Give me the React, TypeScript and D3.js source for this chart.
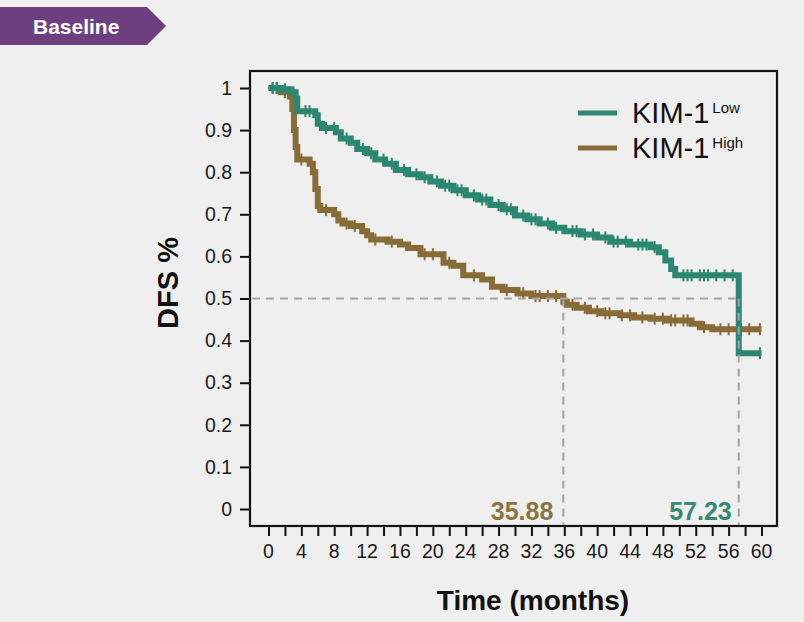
import * as d3 from 'd3';
import { useEffect, useRef } from 'react';

// Kaplan-Meier steps: [month, survival after the event]
const lowSteps: [number, number][] = [
    [0, 1.0], [1.5, 0.997], [2.8, 0.99], [3.3, 0.975], [3.5, 0.945],
    [5.7, 0.935], [6.0, 0.915], [6.5, 0.905], [8.2, 0.895], [8.8, 0.88],
    [10.0, 0.87], [10.8, 0.855], [12.0, 0.845], [13.0, 0.83], [14.2, 0.82],
    [15.5, 0.805], [17.0, 0.795], [18.5, 0.788], [19.7, 0.778], [21.0, 0.768],
    [22.5, 0.757], [24.0, 0.745], [25.5, 0.735], [27.0, 0.722], [28.5, 0.712],
    [30.0, 0.697], [31.5, 0.688], [33.0, 0.678], [34.5, 0.668], [36.0, 0.66],
    [38.0, 0.652], [40.0, 0.645], [41.6, 0.635], [44.0, 0.628], [46.5, 0.622],
    [47.5, 0.61], [48.3, 0.59], [49.0, 0.57], [49.5, 0.555], [57.23, 0.37]
];
const highSteps: [number, number][] = [
    [0, 1.0], [1.5, 0.99], [2.6, 0.98], [2.9, 0.95], [3.1, 0.9],
    [3.3, 0.86], [3.5, 0.83], [5.0, 0.82], [5.4, 0.8], [5.7, 0.76],
    [6.0, 0.72], [6.3, 0.71], [8.0, 0.7], [8.5, 0.685], [9.0, 0.678],
    [10.0, 0.672], [11.4, 0.66], [12.0, 0.65], [12.5, 0.64], [14.5, 0.635],
    [16.0, 0.628], [17.0, 0.62], [18.5, 0.605], [21.3, 0.585], [22.5, 0.578],
    [23.7, 0.555], [26.0, 0.545], [27.2, 0.528], [28.5, 0.52], [30.3, 0.512],
    [32.0, 0.506], [35.88, 0.492], [36.3, 0.485], [37.5, 0.478], [39.0, 0.47],
    [40.5, 0.465], [42.8, 0.46], [44.5, 0.455], [46.5, 0.452], [48.5, 0.448],
    [51.5, 0.44], [52.5, 0.432], [54.0, 0.427]
];
const lowCensored = [0.5, 1, 2, 4.5, 5, 7, 8, 9.5, 11.5, 12.5, 14, 15, 16.5, 18, 19, 20.5, 21.5, 22, 23, 23.5, 25, 26, 26.5, 28, 29, 29.5, 31, 32, 32.5, 34, 35, 37, 37.5, 38.5, 39.5, 41, 42, 42.5, 43.5, 45, 45.5, 46, 47, 50.5, 51, 51.5, 52.5, 53, 53.5, 54.5, 55.5, 56.5, 59.8];
const highCensored = [0.5, 1, 2, 4, 7, 9.5, 10.5, 13, 15, 19, 20, 22, 25, 29, 31, 32.5, 33, 34, 35, 37, 38.5, 40, 41, 41.5, 43, 44, 45.5, 47, 48, 49, 49.5, 50.5, 51, 53, 55, 56, 57.5, 58.5, 59.8];
const medianLow = 57.23;
const medianHigh = 35.88;
const xTicks = d3.range(0, 61, 4);
const yTicks = [0, 0.1, 0.2, 0.3, 0.4, 0.5, 0.6, 0.7, 0.8, 0.9, 1];
const followUp = 60;

export default function App() {
    const ref = useRef<HTMLDivElement>(null);

    useEffect(() => {
        document.body.style.margin = '0';
        const width = 804;
        const height = 622;
        const font = '"Liberation Sans", Arial, sans-serif';
        const teal = '#2c8770';
        const brown = '#876c37';
        const frame = { left: 250, right: 777, top: 71, bottom: 526 };

        const svg = d3.create('svg').attr('width', width).attr('height', height)
            .style('display', 'block').style('background', '#efefef');

        const x = d3.scaleLinear().domain([0, 60]).range([268.5, 761.5]);
        const y = d3.scaleLinear().domain([0, 1]).range([509, 88]);

        // banner tag
        svg.append('path')
            .attr('d', 'M0,7 L147,7 L166,26 L147,45 L0,45 Z')
            .attr('fill', '#6e3f7e');
        svg.append('text')
            .attr('x', 33).attr('y', 34)
            .attr('font-family', font).attr('font-weight', 700).attr('font-size', 21)
            .attr('fill', '#fff').text('Baseline');

        // plot frame
        svg.append('rect')
            .attr('x', frame.left).attr('y', frame.top)
            .attr('width', frame.right - frame.left).attr('height', frame.bottom - frame.top)
            .attr('fill', 'none').attr('stroke', '#111').attr('stroke-width', 2.2);

        // y axis
        const yAxis = d3.axisLeft(y).tickValues(yTicks).tickSize(10).tickPadding(8)
            .tickFormat(d => d3.format('~g')(d as number));
        const gy = svg.append('g').attr('transform', `translate(${frame.left},0)`).call(yAxis);
        gy.select('.domain').remove();
        gy.selectAll('line').attr('stroke', '#111').attr('stroke-width', 2);
        gy.selectAll('text').attr('font-family', font).attr('font-size', 19.5).attr('fill', '#1a1a1a');

        // x axis with minor ticks every 2 months
        const gx = svg.append('g').attr('transform', `translate(0,${frame.bottom})`)
            .call(d3.axisBottom(x).tickValues(d3.range(0, 61, 2)).tickSize(10).tickFormat(() => ''));
        gx.select('.domain').remove();
        gx.selectAll('line').attr('stroke', '#111').attr('stroke-width', 2);
        svg.append('g').selectAll('text').data(xTicks).join('text')
            .attr('x', d => x(d)).attr('y', 558)
            .attr('text-anchor', 'middle')
            .attr('font-family', font).attr('font-size', 19.5).attr('fill', '#1a1a1a')
            .text(d => d);

        // axis titles
        svg.append('text')
            .attr('transform', 'translate(178,283) rotate(-90)')
            .attr('text-anchor', 'middle')
            .attr('font-family', font).attr('font-weight', 700).attr('font-size', 29)
            .attr('fill', '#111').text('DFS %');
        svg.append('text')
            .attr('x', 533).attr('y', 610)
            .attr('text-anchor', 'middle')
            .attr('font-family', font).attr('font-weight', 700).attr('font-size', 28)
            .attr('fill', '#111').text('Time (months)');

        const survivalAt = (steps: [number, number][], t: number) => {
            let s = steps[0][1];
            for (const [st, sv] of steps) if (st <= t) s = sv;
            return s;
        };
        const line = d3.line<[number, number]>()
            .x(d => x(d[0])).y(d => y(d[1]))
            .curve(d3.curveStepAfter);

        const series = [
            { steps: highSteps, censored: highCensored, color: brown },
            { steps: lowSteps, censored: lowCensored, color: teal }
        ];
        series.forEach(s => {
            const pts: [number, number][] = [...s.steps, [followUp, s.steps[s.steps.length - 1][1]]];
            svg.append('path')
                .attr('d', line(pts))
                .attr('fill', 'none').attr('stroke', s.color)
                .attr('stroke-width', 6).attr('stroke-linejoin', 'miter');
            svg.append('g').selectAll('line').data(s.censored).join('line')
                .attr('x1', d => x(d)).attr('x2', d => x(d))
                .attr('y1', d => y(survivalAt(s.steps, d)) - 6)
                .attr('y2', d => y(survivalAt(s.steps, d)) + 6)
                .attr('stroke', s.color).attr('stroke-width', 2);
        });

        // median reference lines
        const dash = svg.append('g').attr('stroke', '#a3a3a3').attr('stroke-width', 2)
            .attr('stroke-dasharray', '8,6').attr('fill', 'none');
        dash.append('line')
            .attr('x1', frame.left + 2).attr('x2', x(medianLow))
            .attr('y1', y(0.5)).attr('y2', y(0.5));
        [medianHigh, medianLow].forEach(m => {
            dash.append('line')
                .attr('x1', x(m)).attr('x2', x(m))
                .attr('y1', y(0.5)).attr('y2', frame.bottom - 1);
        });
        svg.append('text')
            .attr('x', x(medianHigh) - 10).attr('y', 520)
            .attr('text-anchor', 'end')
            .attr('font-family', font).attr('font-weight', 700).attr('font-size', 25)
            .attr('fill', '#8a7441').text(medianHigh.toFixed(2));
        svg.append('text')
            .attr('x', x(medianLow) - 7).attr('y', 520)
            .attr('text-anchor', 'end')
            .attr('font-family', font).attr('font-weight', 700).attr('font-size', 25)
            .attr('fill', '#348a73').text(medianLow.toFixed(2));

        // legend
        const legend = [
            { label: 'KIM-1', sup: 'Low', color: teal, y: 113 },
            { label: 'KIM-1', sup: 'High', color: brown, y: 148 }
        ];
        legend.forEach(l => {
            svg.append('line')
                .attr('x1', 578).attr('x2', 617).attr('y1', l.y).attr('y2', l.y)
                .attr('stroke', l.color).attr('stroke-width', 5);
            const t = svg.append('text')
                .attr('x', 632).attr('y', l.y + 10)
                .attr('font-family', font).attr('font-size', 29).attr('fill', '#111');
            t.append('tspan').text(l.label);
            t.append('tspan').attr('dx', 3).attr('dy', -10).attr('font-size', 15).text(l.sup);
        });

        ref.current?.replaceChildren(svg.node()!);
    }, []);

    return <div ref={ref}></div>;
}
